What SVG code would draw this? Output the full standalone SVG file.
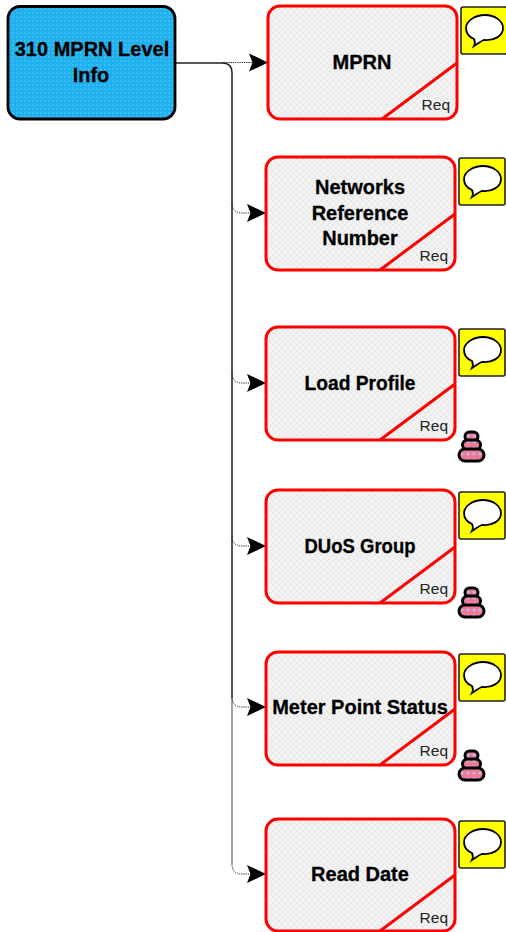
<svg xmlns="http://www.w3.org/2000/svg" xmlns:xlink="http://www.w3.org/1999/xlink" width="506" height="932" viewBox="0 0 506 932">
<style>
.t{font-family:"Liberation Sans",Arial,sans-serif;font-weight:700;font-size:20px;fill:#000;text-anchor:middle;stroke:#000;stroke-width:.3px}
.r{font-family:"Liberation Sans",Arial,sans-serif;font-size:15.500px;fill:#222;text-anchor:end}
.box{fill:url(#gray);stroke:#f00;stroke-width:3}
.diag{fill:none;stroke:#f00;stroke-width:3}
.note{fill:#ff0;stroke:#222;stroke-width:1.6}
.bub{fill:#fff;stroke:#000;stroke-width:1.8}
.trunk{fill:none;stroke:#222;stroke-width:1.5}
.trunk2{fill:none;stroke:#888;stroke-width:1.5}
.dot{fill:none;stroke:#222;stroke-width:1;stroke-dasharray:1.2 1}
.stk{fill:url(#pink);stroke:#000;stroke-width:3}
</style>
<defs>
<pattern id="gray" width="6" height="6" patternUnits="userSpaceOnUse"><rect width="6" height="6" fill="#f3f3f3"/><path d="M0 0L6 6M6 0L0 6" stroke="#e8e8e8" stroke-width="1"/></pattern>
<pattern id="blue" width="4" height="4" patternUnits="userSpaceOnUse"><rect width="4" height="4" fill="#1fb0ee"/><circle cx="1" cy="1" r=".8" fill="#62caf4"/></pattern>
<pattern id="pink" width="6" height="6" patternUnits="userSpaceOnUse"><rect width="6" height="6" fill="#f07a96"/><path d="M3 1.200L4.800 3L3 4.800L1.200 3Z" fill="#a8c4f8"/></pattern>
<marker id="arr" markerUnits="userSpaceOnUse" markerWidth="20" markerHeight="20" refX="19" refY="10" orient="auto"><path d="M0 1L19 10L0 19L3.500 10Z" fill="#000"/></marker>
<g id="bubble"><rect class="note" x="0" y="0" width="46" height="47" rx="2"/><path class="bub" transform="translate(1 1)" d="M23 7C33 7 41 13 41 20C41 28 32 33 22 32C19 33 15 36 12 38C13 36 13 33 12 31C7 29 4 25 4 20C4 13 13 7 23 7Z"/></g>
<g id="stack"><rect class="stk" x="6" y="-1" width="13" height="9" rx="4.500"/><rect class="stk" x="3.500" y="7" width="18" height="10" rx="5"/><rect class="stk" x="0" y="16" width="25" height="12" rx="6"/></g>
</defs>
<g id="connectors">
<path class="trunk" d="M176 63H222Q232 63 232 73V698"/>
<path class="trunk2" d="M232 698V864"/>
<path class="dot" d="M222 62.500H268" marker-end="url(#arr)"/>
<path class="dot" d="M232 203Q232 213 242 213H266" marker-end="url(#arr)"/>
<path class="dot" d="M232 373Q232 383 242 383H266" marker-end="url(#arr)"/>
<path class="dot" d="M232 536Q232 546 242 546H266" marker-end="url(#arr)"/>
<path class="dot" d="M232 697Q232 707 242 707H266" marker-end="url(#arr)"/>
<path class="dot" d="M232 864Q232 874 242 874H266" marker-end="url(#arr)"/>
</g>
<g id="root"><rect x="8" y="6.500" width="167" height="112.500" rx="12" fill="url(#blue)" stroke="#000" stroke-width="2.800"/><text class="t" x="92" y="56">310 MPRN Level</text><text class="t" x="91" y="82">Info</text></g>
<g id="n1"><rect class="box" x="268" y="6" width="189" height="113" rx="12"/><path class="diag" d="M382 119L457 63"/><text class="t" x="362" y="69">MPRN</text><text class="r" x="450" y="110">Req</text><use xlink:href="#bubble" href="#bubble" x="461" y="7"/></g>
<g id="n2"><rect class="box" x="266" y="157" width="189" height="113" rx="12"/><path class="diag" d="M380 270L455 214"/><text class="t" x="360" y="194">Networks</text><text class="t" x="360" y="220">Reference</text><text class="t" x="360" y="245">Number</text><text class="r" x="448" y="261">Req</text><use xlink:href="#bubble" href="#bubble" x="459" y="158"/></g>
<g id="n3"><rect class="box" x="266" y="327" width="189" height="113" rx="12"/><path class="diag" d="M380 440L455 384"/><text class="t" x="360" y="390" textLength="111" lengthAdjust="spacingAndGlyphs">Load Profile</text><text class="r" x="448" y="431">Req</text><use xlink:href="#bubble" href="#bubble" x="459" y="329"/><use xlink:href="#stack" href="#stack" x="459" y="433"/></g>
<g id="n4"><rect class="box" x="266" y="490" width="189" height="113" rx="12"/><path class="diag" d="M380 603L455 547"/><text class="t" x="360" y="553" textLength="111" lengthAdjust="spacingAndGlyphs">DUoS Group</text><text class="r" x="448" y="594">Req</text><use xlink:href="#bubble" href="#bubble" x="459" y="492"/><use xlink:href="#stack" href="#stack" x="459" y="589"/></g>
<g id="n5"><rect class="box" x="266" y="652" width="189" height="113" rx="12"/><path class="diag" d="M380 765L455 709"/><text class="t" x="360" y="714">Meter Point Status</text><text class="r" x="448" y="756">Req</text><use xlink:href="#bubble" href="#bubble" x="459" y="654"/><use xlink:href="#stack" href="#stack" x="459" y="752"/></g>
<g id="n6"><rect class="box" x="266" y="819" width="189" height="112" rx="12"/><path class="diag" d="M380 931L455 875"/><text class="t" x="360" y="881">Read Date</text><text class="r" x="448" y="923">Req</text><use xlink:href="#bubble" href="#bubble" x="459" y="821"/></g>
</svg>
